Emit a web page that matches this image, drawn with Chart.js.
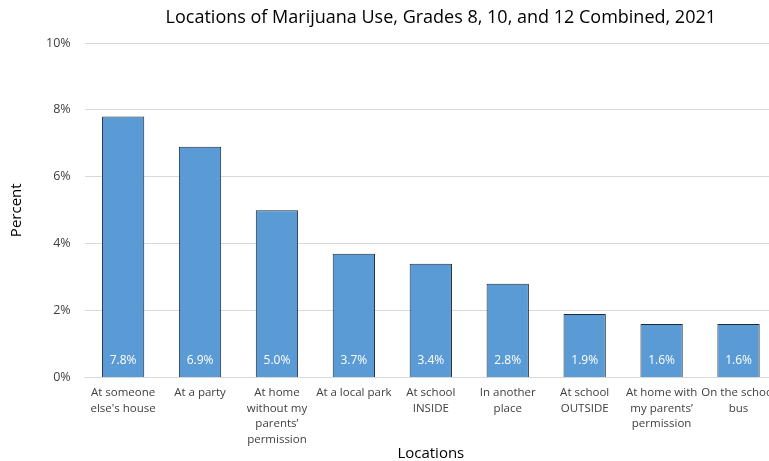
<!DOCTYPE html>
<html><head><meta charset="utf-8">
<script src="https://cdn.jsdelivr.net/npm/chart.js@4"></script>
<style>html,body{margin:0;padding:0;overflow:hidden;background:#fff}#wrap{width:790px;height:461px}</style>
</head><body><div id="wrap"><canvas id="c" width="790" height="461"></canvas></div>
<script>
const categories = [
  ["At someone","else's house"],
  ["At a party"],
  ["At home","without my","parents\u2019","permission"],
  ["At a local park"],
  ["At school","INSIDE"],
  ["In another","place"],
  ["At school","OUTSIDE"],
  ["At home with","my parents\u2019","permission"],
  ["On the school","bus"]
];
const values = [7.8, 6.9, 5.0, 3.7, 3.4, 2.8, 1.9, 1.6, 1.6];
const yTicks = [0, 2, 4, 6, 8, 10];
const titleText = 'Locations of Marijuana Use, Grades 8, 10, and 12 Combined, 2021';
const FONT = "'Open Sans', 'Noto Sans', sans-serif";

const labelPlugin = {
  id: 'barLabels',
  afterDatasetsDraw(chart) {
    const ctx = chart.ctx;
    const meta = chart.getDatasetMeta(0);
    ctx.save();
    ctx.fillStyle = '#ffffff';
    ctx.font = "12px " + FONT;
    ctx.textAlign = 'center';
    ctx.textBaseline = 'middle';
    meta.data.forEach((bar, i) => {
      ctx.fillText(values[i].toFixed(1) + '%', bar.x, bar.base - 16);
    });
    // chart title, centred a little right of the plot centre as in the reference
    const a = chart.chartArea;
    ctx.fillStyle = '#000000';
    ctx.font = "18px " + FONT;
    ctx.fillText(titleText, (a.left + a.right) / 2 + 10, a.top - 25);
    ctx.restore();
  }
};

new Chart(document.getElementById('c'), {
  type: 'bar',
  data: {
    labels: categories,
    datasets: [{
      data: values,
      backgroundColor: '#5B9BD5',
      borderColor: '#1f2a36',
      borderWidth: 1,
      barPercentage: 0.55,
      categoryPercentage: 1.0
    }]
  },
  options: {
    responsive: false,
    animation: false,
    layout: { padding: { top: 43, right: 13, left: 4, bottom: 0 } },
    plugins: {
      legend: { display: false },
      tooltip: { enabled: false },
      title: { display: false }
    },
    scales: {
      x: {
        grid: { display: false, drawTicks: false },
        border: { color: '#d9d9d9' },
        ticks: {
          color: '#404040', font: { family: FONT, size: 11.5, lineHeight: 1.38 },
          maxRotation: 0, autoSkip: false, padding: 7
        },
        title: { display: true, text: 'Locations', color: '#000', font: { family: FONT, size: 15, lineHeight: 1.0 }, padding: { top: -9, bottom: 0 } }
      },
      y: {
        min: 0, max: 10,
        afterBuildTicks(axis) { axis.ticks = yTicks.map(v => ({ value: v })); },
        grid: { color: '#d9d9d9', drawTicks: false },
        border: { display: false },
        ticks: {
          color: '#404040', font: { family: FONT, size: 12.5 }, padding: 14,
          callback: v => v + '%'
        },
        title: { display: true, text: 'Percent', color: '#000', font: { family: FONT, size: 15 }, padding: { bottom: 6 } }
      }
    }
  },
  plugins: [labelPlugin]
});
</script>
</body></html>
